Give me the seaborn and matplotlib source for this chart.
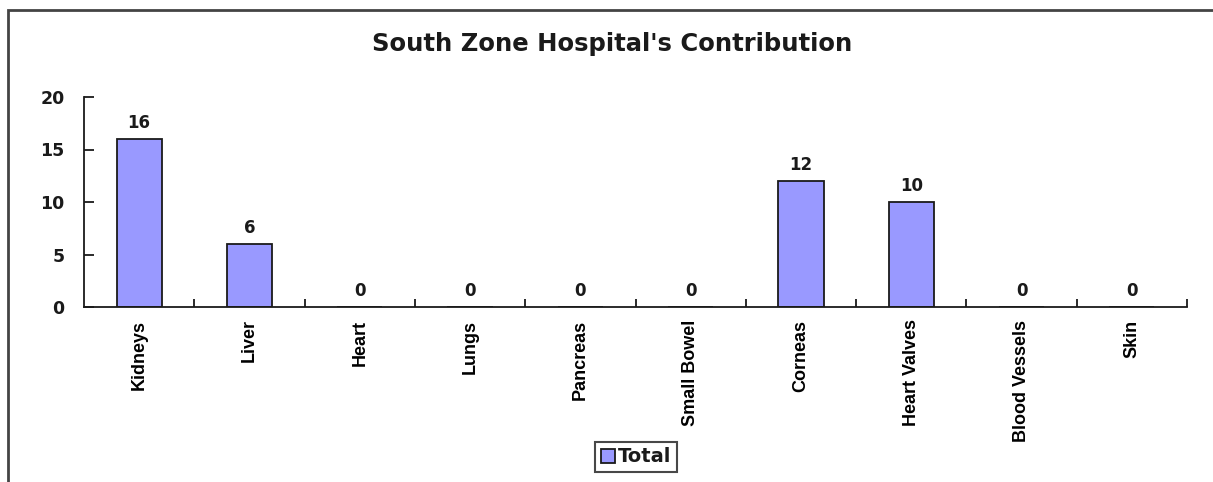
import matplotlib
matplotlib.use("Agg")
import matplotlib.pyplot as plt
import seaborn as sb
from matplotlib.patches import Rectangle
from matplotlib.ticker import FixedLocator

organs = ["Kidneys", "Liver", "Heart", "Lungs", "Pancreas", "Small Bowel",
          "Corneas", "Heart Valves", "Blood Vessels", "Skin"]
totals = [16, 6, 0, 0, 0, 0, 12, 10, 0, 0]
yticks = [0, 5, 10, 15, 20]
title = "South Zone Hospital's Contribution"

bar_color = "#9999ff"
ink = "#1a1a1a"

sb.set_style("white")
plt.rcParams["font.family"] = ["DejaVu Sans"]

fig = plt.figure(figsize=(12.13, 4.82), dpi=100)
ax = fig.add_axes([84 / 1213, 1 - 307 / 482, (1187 - 84) / 1213, (307 - 97) / 482])

sb.barplot(x=organs, y=totals, color=bar_color, edgecolor=ink, linewidth=1.3,
           width=0.41, saturation=1, label="Total", ax=ax)

ax.set_xlim(-0.5, len(organs) - 0.5)
ax.set_ylim(0, 20)
ax.set_yticks(yticks)
ax.set_yticklabels([str(v) for v in yticks], fontsize=12.5, fontweight="bold", color=ink)
ax.tick_params(axis="y", left=True, direction="in", length=7, width=1.3, color=ink, pad=14)

ax.set_xticks(range(len(organs)))
ax.set_xticklabels(organs, rotation=90, fontsize=13, fontweight="bold", color="black",
                   family="Liberation Sans")
ax.tick_params(axis="x", which="major", bottom=True, length=0, pad=9)
ax.xaxis.set_minor_locator(FixedLocator([i + 0.5 for i in range(len(organs))]))
ax.tick_params(axis="x", which="minor", bottom=True, direction="in", length=6,
               width=1.3, color=ink)

for side in ["top", "right"]:
    ax.spines[side].set_visible(False)
for side in ["left", "bottom"]:
    ax.spines[side].set_color(ink)
    ax.spines[side].set_linewidth(1.3)
ax.set_xlabel("")
ax.set_ylabel("")

for c in ax.containers:
    ax.bar_label(c, labels=[str(v) for v in totals], padding=5, fontsize=12,
                 fontweight="bold", color=ink)

fig.text(612 / 1213, 1 - 44 / 482, title, ha="center", va="center",
         fontsize=17.5, fontweight="bold", color=ink)

leg = ax.legend(loc="center", bbox_to_anchor=(636 / 1213, 1 - 457 / 482),
                bbox_transform=fig.transFigure, fancybox=False, frameon=True,
                edgecolor=ink, fontsize=14, handlelength=0.7, handleheight=0.7,
                handletextpad=0.15, borderpad=0.3, borderaxespad=0)
leg.get_frame().set_linewidth(1.5)
for t in leg.get_texts():
    t.set_fontweight("bold")
    t.set_color(ink)

# chart area border (cropped on the right and bottom in the original)
fig.patches.append(Rectangle((8 / 1213, -0.1), 1.2, 1 - 10 / 482 + 0.1,
                             transform=fig.transFigure, fill=False,
                             edgecolor="#444444", linewidth=2))

fig.savefig("out.png", dpi=100)
